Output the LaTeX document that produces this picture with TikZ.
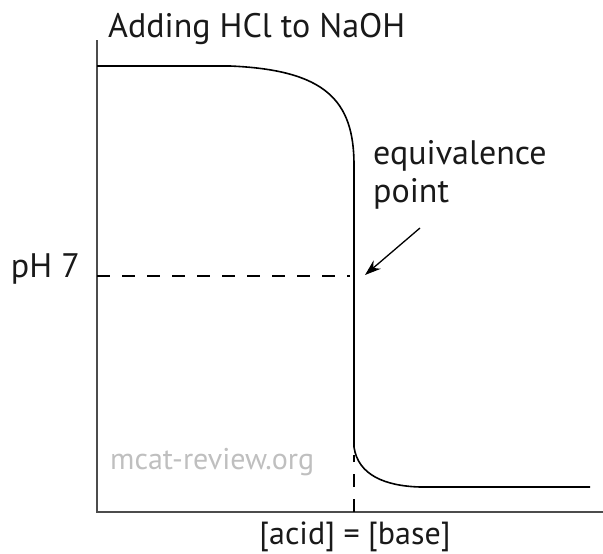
\documentclass[tikz,border=0pt]{standalone}
\usepackage{fontspec}
\setmainfont{PT Sans}
\usetikzlibrary{arrows.meta}
\begin{document}
\begin{tikzpicture}[x=1pt,y=-1pt,
  axis/.style={draw=black!70,line width=1.8pt},
  curve/.style={draw=black,line width=1.6pt},
  dashline/.style={draw=black,line width=1.2pt,dash pattern=on 13pt off 12pt},
  lbl/.style={font=\fontsize{34}{38}\selectfont,text=black!90,inner sep=0pt}]
\useasboundingbox (0,0) rectangle (603,554);
\coordinate (top) at (97,40);
\coordinate (origin) at (97,512);
\coordinate (xend) at (603,512);
\draw[axis] (top) -- (origin) -- (xend);
\coordinate (p0) at (97,66);
\coordinate (p1) at (230,66);
\coordinate (p2) at (354,165);
\coordinate (p3) at (354,447);
\coordinate (p4) at (420,487);
\coordinate (p5) at (590,487);
\draw[curve] (p0) -- (p1) .. controls (325,70) and (354,100) .. (p2) -- (p3)
  .. controls (358,475) and (385,486) .. (p4) -- (p5);
\coordinate (h0) at (97,276);
\coordinate (h1) at (350,276);
\draw[dashline] (h0) -- (h1);
\coordinate (v0) at (354,512);
\coordinate (v1) at (354,455);
\draw[dashline] (v0) -- (v1);
\coordinate (a0) at (420,228);
\coordinate (a1) at (365,275);
\draw[line width=1.3pt,-{Stealth[length=16pt,width=11pt]}] (a0) -- (a1);
\node[lbl,anchor=base west] (title) at (108,37) {Adding HCl to NaOH};
\node[lbl,anchor=base west] (eq) at (373,164) {equivalence};
\node[lbl,anchor=base west] (pt) at (373,202) {point};
\node[lbl,anchor=base east] (ph) at (80,277) {pH 7};
\node[lbl,font=\fontsize{32}{36}\selectfont,anchor=base] (ab) at (355,544) {[acid] = [base]};
\node[font=\fontsize{30}{34}\selectfont,text=black!25,anchor=base west,inner sep=0pt] (wm) at (110,469) {mcat-review.org};
\end{tikzpicture}
\end{document}
